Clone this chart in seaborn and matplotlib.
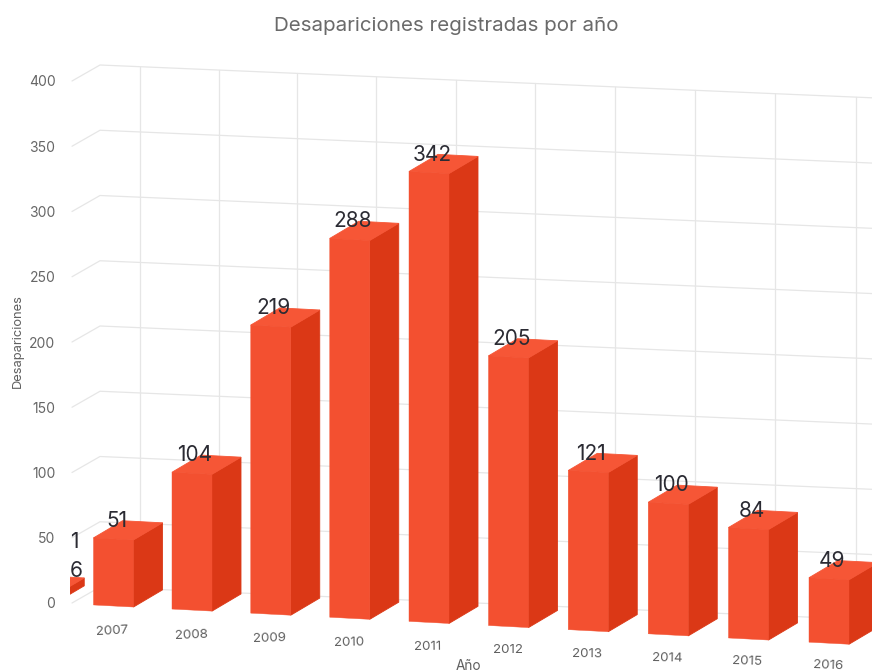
import matplotlib
matplotlib.use("Agg")
import matplotlib.pyplot as plt
from matplotlib.transforms import Affine2D
import numpy as np
import pandas as pd
import seaborn as sns

years = ["2005", "2006", "2007", "2008", "2009", "2010", "2011", "2012", "2013", "2014", "2015", "2016"]
desapariciones = [1, 6, 51, 104, 219, 288, 342, 205, 121, 100, 84, 49]
y_ticks = [0, 50, 100, 150, 200, 250, 300, 350, 400]

FRONT = "#F35030"
SIDE = "#DB3816"
TOP = "#F65636"
GRID = "#E6E6E6"

W, H = 872, 672
LEFT = 70          # the plot area clips the bars here
PITCH = 79.6       # px between years
Y_SCALE = 1.305    # px per unit on the axis
ZERO_PX = 603      # px height of the 0 tick
DEPTH_X, DEPTH_Y = 29, 18.5
BAR_GROW = 1.008

sns.set_theme(style="white")
plt.rcParams["font.family"] = ["Inter", "DejaVu Sans"]

fig = plt.figure(figsize=(W / 100, H / 100), dpi=100)
ax = fig.add_axes([LEFT / W, 0, (W - LEFT) / W, 1])

df = pd.DataFrame({"year": years, "value": desapariciones})
sns.barplot(data=df, x="year", y="value", order=years, color=FRONT, saturation=1,
            width=40 / PITCH, ax=ax, zorder=3)


def cat_at(px):
    # category position of a pixel column, 2007 (index 2) is centred on 113.5
    return 2 + (px - 113.5) / PITCH


def persp(i):
    # years spread out a little towards the right
    k = i - 2
    return 2 + (78.5 * k + 0.125 * k * (k - 1)) / PITCH


ax.set_xlim(cat_at(LEFT), cat_at(W))
ax.set_ylim((ZERO_PX - H) / Y_SCALE, ZERO_PX / Y_SCALE)
sns.despine(ax=ax, left=True, bottom=True)
ax.set_xticks([])
ax.set_xlabel("")
ax.set_ylabel("")
ax.set_yticks(y_ticks)
ax.tick_params(axis="y", length=0, pad=10.5, labelsize=10, labelcolor="#666666")

# floor of the front plane runs downhill to the right
bar_slope = 0.052 * PITCH / Y_SCALE
bar_shift = -3 / Y_SCALE
sheared = Affine2D(np.array([[1, 0, 0],
                             [-bar_slope, BAR_GROW, 2 * bar_slope + bar_shift],
                             [0, 0, 1]]))
bar_trans = sheared + ax.transData

# back wall
wall_x0 = cat_at(100)
wall_slope = 0.0425 * PITCH / Y_SCALE
wall_lift = 16 / Y_SCALE


def wall_y(v, x):
    return v + wall_lift - wall_slope * (x - wall_x0)


right_x = cat_at(W)
front_x = cat_at(72)
for v in y_ticks:
    ax.plot([front_x, wall_x0, right_x], [v, wall_y(v, wall_x0), wall_y(v, right_x)],
            color=GRID, lw=0.9, zorder=1, solid_joinstyle="miter")
for i in range(2, len(years)):
    x = persp(i) + 26.5 / PITCH
    ax.plot([x, x], [wall_y(0, x), wall_y(y_ticks[-1], x)], color=GRID, lw=0.9, zorder=1)

# side and top faces taken from what seaborn drew
dx = DEPTH_X / PITCH
dv = DEPTH_Y / Y_SCALE
for i, patch in enumerate(ax.patches):
    patch.set_x(patch.get_x() + persp(i) - i)
    x0, x1 = patch.get_x(), patch.get_x() + patch.get_width()
    v = patch.get_height()
    patch.set_transform(bar_trans)
    patch.set_edgecolor(FRONT)
    patch.set_linewidth(0.3)
    ax.fill([x1, x1 + dx, x1 + dx, x1], [0, dv, v + dv, v], fc=SIDE, ec=SIDE, lw=0.6,
            transform=bar_trans, zorder=2.5)
    ax.fill([x0, x1, x1 + dx, x0 + dx], [v, v, v + dv, v + dv], fc=TOP, ec=TOP, lw=0.6,
            transform=bar_trans, zorder=2.6)

# value labels, the ones pushed off the left edge are pulled back in
x_left = cat_at(LEFT)
label_lift = {"2005": 37, "2006": 5}
for i, (year, v) in enumerate(zip(years, desapariciones)):
    xd, yd = sheared.transform((persp(i), v))
    ha = "center"
    off_x = 3
    if xd < x_left:
        xd, ha, off_x = x_left, "left", 0
    ax.annotate(str(v), (xd, yd), xytext=(off_x, 18 + label_lift.get(year, 0)),
                textcoords="offset pixels", ha=ha, va="center", fontsize=15,
                color="#2b2b33", annotation_clip=False, zorder=5)

# year labels follow the floor
for i, year in enumerate(years[2:], start=2):
    xd, yd = sheared.transform((persp(i), 0))
    ax.annotate(year, (xd, yd), xytext=(-1, -25.5 + (i - 2) * 0.35), textcoords="offset pixels",
                ha="center", va="center", fontsize=9.6, color="#606060",
                rotation=3 - (i - 2) * 0.6, annotation_clip=False, zorder=5)

fig.text(446.5 / W, 1 - 26 / H, "Desapariciones registradas por año", ha="center", va="center",
         fontsize=14.8, color="#6a6a6a")
fig.text(18 / W, 1 - 341 / H, "Desapariciones", rotation=90, ha="center", va="center",
         fontsize=9.3, color="#606060")
fig.text(468 / W, 1 - 666 / H, "Año", ha="center", va="center", fontsize=9.8, color="#606060")

fig.savefig("out.png", dpi=100)
